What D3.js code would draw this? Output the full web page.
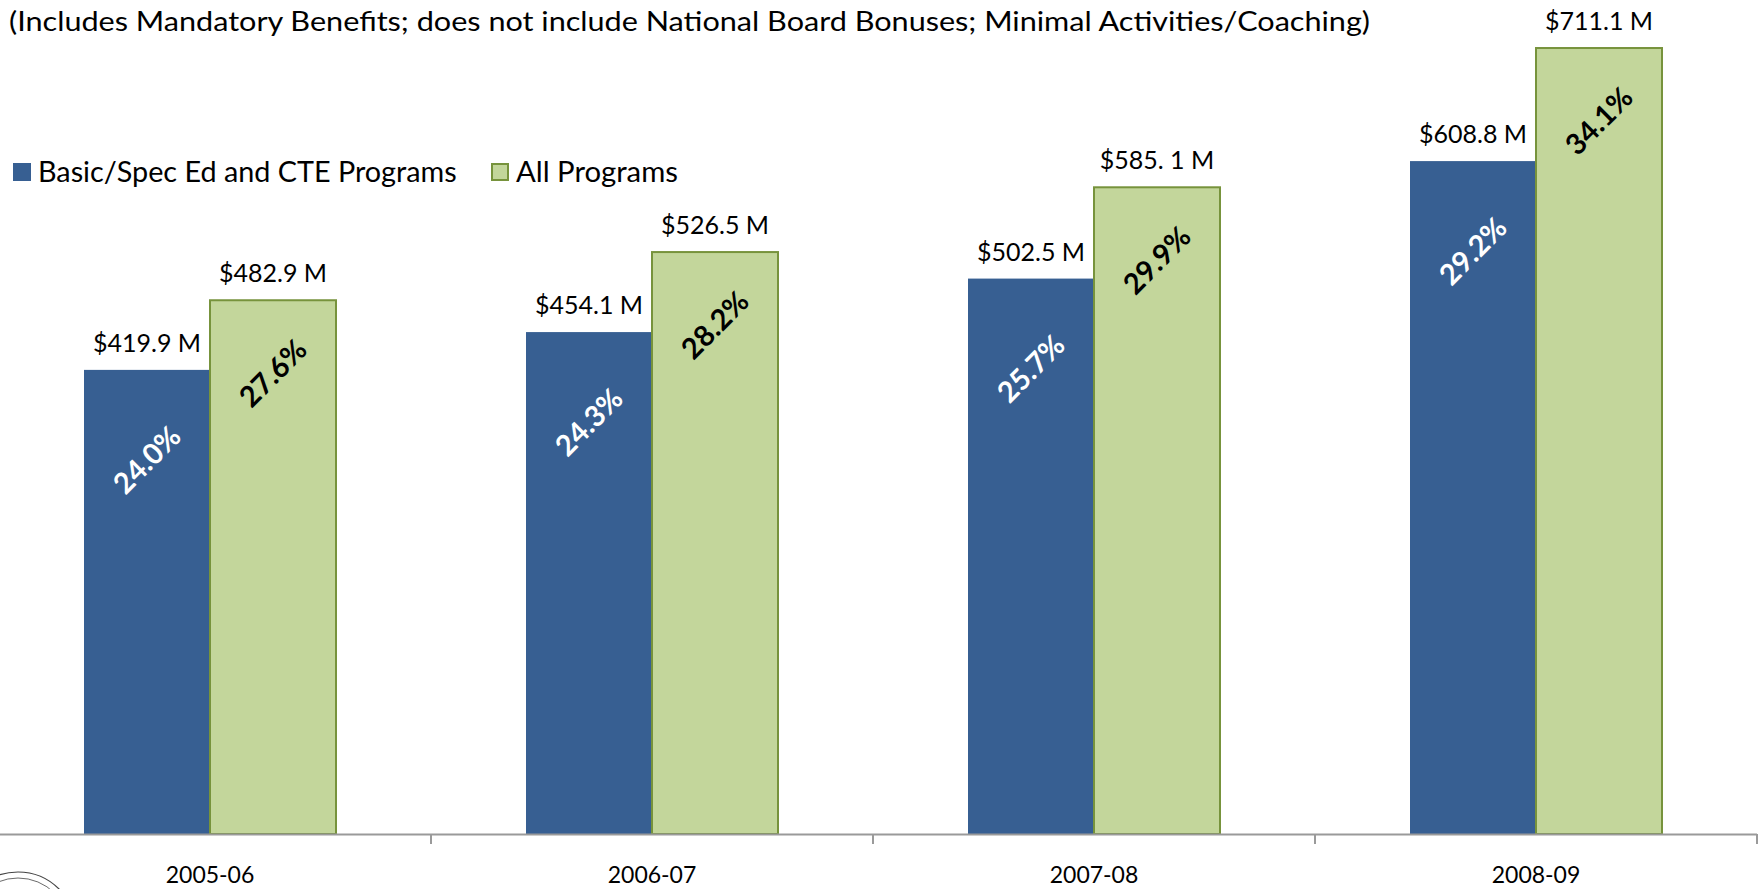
<!DOCTYPE html>
<html>
<head>
<meta charset="utf-8">
<script src="https://cdn.jsdelivr.net/npm/d3@7"></script>
<style>
  body { margin: 0; background: #fff; overflow: hidden; }
  svg { display: block; font-family: Lato, "Noto Sans", sans-serif; }
</style>
</head>
<body>
<svg id="chart" width="1758" height="889"></svg>
<script>
// data
var years = ['2005-06', '2006-07', '2007-08', '2008-09'];
var seriesNames = ['Basic/Spec Ed and CTE Programs', 'All Programs'];
var basicValues = [419.9, 454.1, 502.5, 608.8];
var allValues = [482.9, 526.5, 585.1, 711.1];
var basicLabels = ['$419.9 M', '$454.1 M', '$502.5 M', '$608.8 M'];
var allLabels = ['$482.9 M', '$526.5 M', '$585. 1 M', '$711.1 M'];
var basicPct = ['24.0%', '24.3%', '25.7%', '29.2%'];
var allPct = ['27.6%', '28.2%', '29.9%', '34.1%'];
var subtitle = '(Includes Mandatory Benefits; does not include National Board Bonuses; Minimal Activities/Coaching)';

var colors = { fill: ['#375f92', '#c3d69b'], stroke: ['none', '#77933c'], pct: ['#ffffff', '#000000'] };

var svg = d3.select('#chart');
var baseY = 834;

var x = d3.scaleBand().domain(years).range([-11, 1757]);
var bw = x.bandwidth();
var barW = 126;
var x1 = d3.scaleBand().domain([0, 1]).range([(bw - 2 * barW) / 2, (bw + 2 * barW) / 2]);
var y = d3.scaleLinear().domain([0, 800]).range([baseY, baseY - 800 * 1.1053]);

var rows = years.map(function(yr, i) {
  return [
    { year: yr, s: 0, v: basicValues[i], lab: basicLabels[i], pct: basicPct[i] },
    { year: yr, s: 1, v: allValues[i], lab: allLabels[i], pct: allPct[i] }
  ];
});
var bars = d3.merge(rows);

// subtitle
svg.append('text')
  .attr('x', 9).attr('y', 31)
  .attr('font-size', 26)
  .attr('fill', '#000')
  .attr('textLength', 1361)
  .attr('lengthAdjust', 'spacingAndGlyphs')
  .text(subtitle);

// legend
var leg = svg.append('g');
var legX = [13, 491];
seriesNames.forEach(function(name, i) {
  leg.append('rect')
    .attr('x', legX[i] + (i ? 1 : 0)).attr('y', 163 + (i ? 1 : 0))
    .attr('width', i ? 16 : 18).attr('height', i ? 16 : 18)
    .attr('fill', colors.fill[i])
    .attr('stroke', colors.stroke[i]).attr('stroke-width', 2);
  leg.append('text')
    .attr('x', legX[i] + 25).attr('y', 182)
    .attr('font-size', 28)
    .text(name)
    .call(function(t) {
      var target = i ? 162 : 419;
      var w = t.node().getComputedTextLength();
      t.attr('font-size', 28 * target / w);
    });
});

// bars
var g = svg.append('g');
g.selectAll('rect.bar')
  .data(bars)
  .join('rect')
  .attr('class', 'bar')
  .attr('x', function(d) { return x(d.year) + x1(d.s); })
  .attr('y', function(d) { return y(d.v); })
  .attr('width', x1.bandwidth())
  .attr('height', function(d) { return baseY - y(d.v); })
  .attr('fill', function(d) { return colors.fill[d.s]; })
  .attr('stroke', function(d) { return colors.stroke[d.s]; })
  .attr('stroke-width', 2);

// value labels above bars
g.selectAll('text.val')
  .data(bars)
  .join('text')
  .attr('class', 'val')
  .attr('x', function(d) { return x(d.year) + x1(d.s) + x1.bandwidth() / 2; })
  .attr('y', function(d) { return y(d.v) - 18; })
  .attr('text-anchor', 'middle')
  .attr('font-size', 25)
  .text(function(d) { return d.lab; });

// rotated percent labels inside bars
var pctOffset = [90, 73];
g.selectAll('text.pct')
  .data(bars)
  .join('text')
  .attr('class', 'pct')
  .attr('transform', function(d) {
    var cx = x(d.year) + x1(d.s) + x1.bandwidth() / 2;
    var cy = y(d.v) + pctOffset[d.s];
    return 'translate(' + cx + ',' + cy + ') rotate(-45)';
  })
  .attr('text-anchor', 'middle')
  .attr('dy', '0.35em')
  .attr('font-size', 29)
  .attr('font-weight', 'bold')
  .attr('fill', function(d) { return colors.pct[d.s]; })
  .text(function(d) { return d.pct; });

// x axis
var axis = svg.append('g');
axis.append('line')
  .attr('x1', 0).attr('x2', 1757)
  .attr('y1', baseY + 0.5).attr('y2', baseY + 0.5)
  .attr('stroke', '#9a9a9a').attr('stroke-width', 2);
axis.selectAll('line.tick')
  .data(years.slice(1).concat(['end']))
  .join('line')
  .attr('class', 'tick')
  .attr('x1', function(d, i) { return x(years[0]) + bw * (i + 1); })
  .attr('x2', function(d, i) { return x(years[0]) + bw * (i + 1); })
  .attr('y1', baseY).attr('y2', baseY + 10)
  .attr('stroke', '#9a9a9a').attr('stroke-width', 2);
axis.selectAll('text.cat')
  .data(years)
  .join('text')
  .attr('class', 'cat')
  .attr('x', function(d) { return x(d) + bw / 2; })
  .attr('y', 883)
  .attr('text-anchor', 'middle')
  .attr('font-size', 23)
  .text(function(d) { return d; });

// partial seal in bottom-left corner
var seal = svg.append('g').attr('fill', 'none').attr('stroke', '#444');
seal.append('circle').attr('cx', 18).attr('cy', 930).attr('r', 58).attr('stroke-width', 1.2);
seal.append('circle').attr('cx', 18).attr('cy', 930).attr('r', 52).attr('stroke-width', 0.8);
</script>
</body>
</html>
